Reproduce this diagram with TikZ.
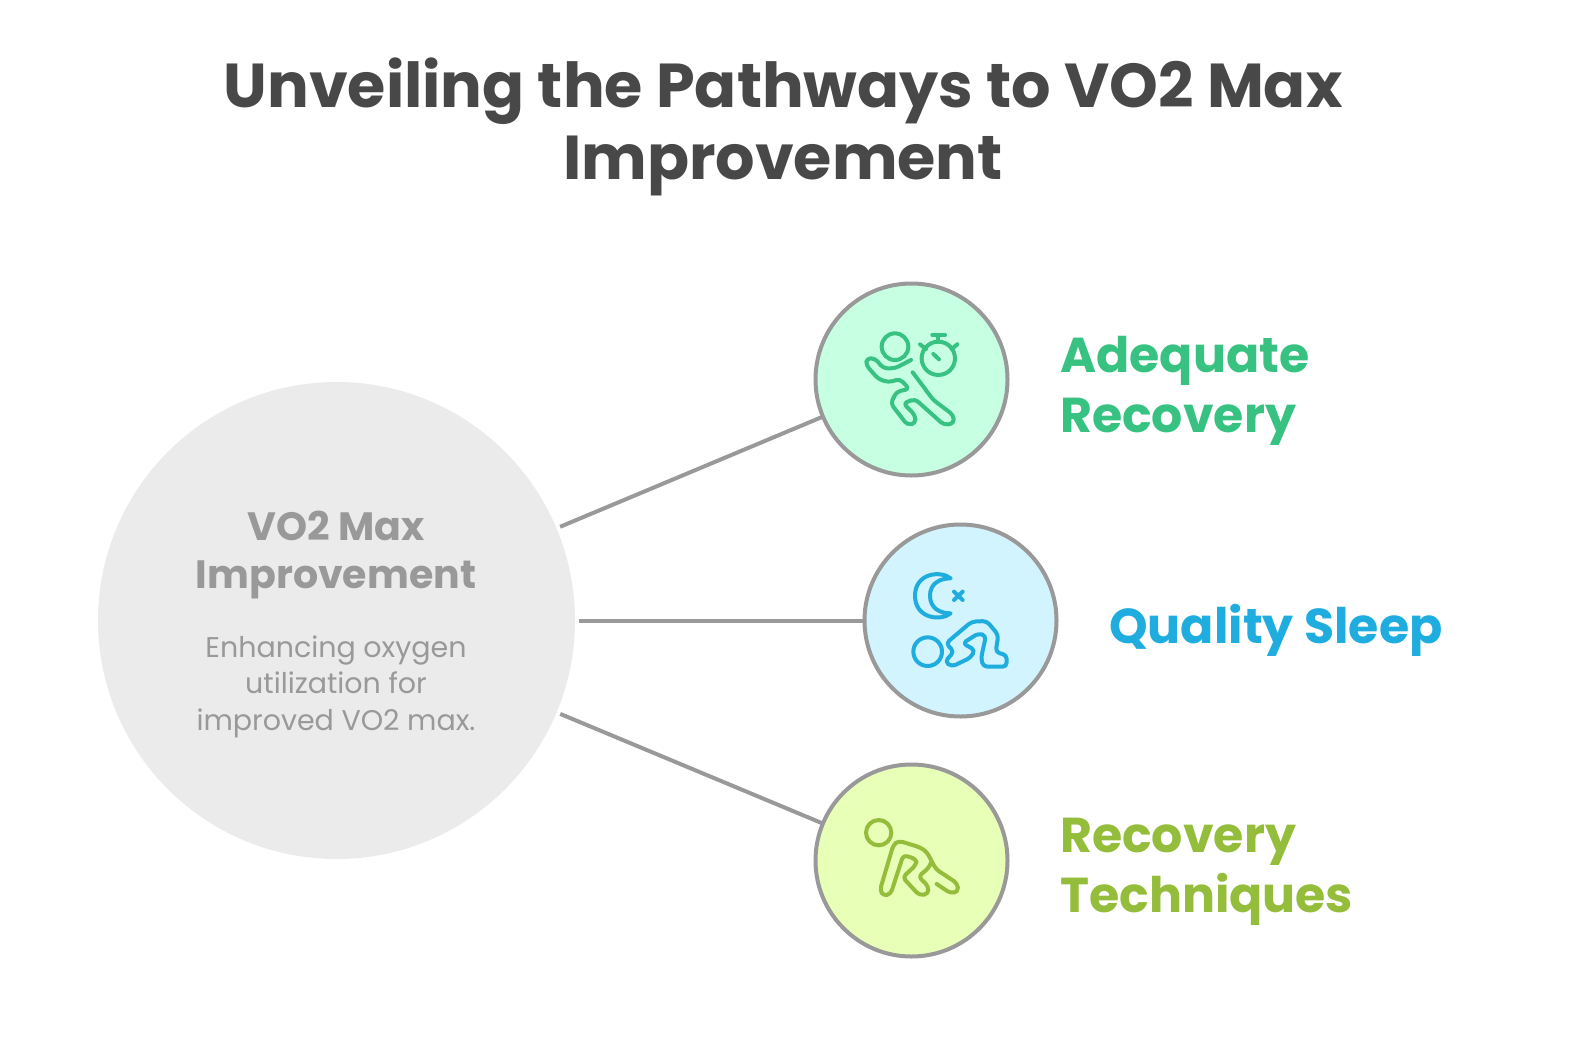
\documentclass[tikz,border=0pt]{standalone}
\usepackage{fontspec}
\setmainfont{Poppins}
\definecolor{titlegray}{HTML}{484848}
\definecolor{ringgray}{HTML}{999999}
\definecolor{maingray}{HTML}{EBEBEB}
\definecolor{adequatefill}{HTML}{C7FFE3}
\definecolor{adequateink}{HTML}{38C281}
\definecolor{sleepfill}{HTML}{D1F4FF}
\definecolor{sleepink}{HTML}{1EADDE}
\definecolor{techfill}{HTML}{E8FFB8}
\definecolor{techink}{HTML}{93BD3A}
\tikzset{
  ring/.style={circle, draw=ringgray, line width=4pt, minimum size=192pt, inner sep=0pt, outer sep=0pt},
  link/.style={draw=ringgray, line width=4pt},
  glyph/.style={line width=4pt, line join=round, line cap=round},
  tag/.style={anchor=west, align=left, inner sep=0pt, font=\fontsize{49}{60}\selectfont\bfseries}
}
\begin{document}
\begin{tikzpicture}[x=1pt,y=-1pt]
\useasboundingbox (0,0) rectangle (1584,1052);
\node[align=center, inner sep=0pt, text=titlegray, font=\fontsize{62}{72}\selectfont\bfseries] (title) at (783,127) {Unveiling the Pathways to VO2 Max\\Improvement};
\node[circle, fill=maingray, minimum size=477pt, inner sep=0pt, outer sep=4pt] (main) at (336.5,620.5) {};
\node[align=center, inner sep=0pt, text=ringgray, font=\fontsize{39.5}{48.5}\selectfont\bfseries] (mainhead) at (336,555) {VO2 Max\\Improvement};
\node[align=center, inner sep=0pt, text=ringgray, font=\fontsize{28.5}{36.4}\selectfont] (maintext) at (336,686.5) {Enhancing oxygen\\utilization for\\improved VO2 max.};
\node[ring, fill=adequatefill] (adequate) at (911.5,379.5) {};
\node[ring, fill=sleepfill] (sleep) at (960.5,620.5) {};
\node[ring, fill=techfill] (tech) at (911.5,860.5) {};
\draw[link] (main) -- (adequate);
\draw[link] (main) -- (sleep);
\draw[link] (main) -- (tech);
\node[tag, text=adequateink] (adequatetag) at (1060,391) {Adequate\\Recovery};
\node[tag, text=sleepink] (sleeptag) at (1109,630) {Quality Sleep};
\node[tag, text=techink] (techtag) at (1060,871.5) {Recovery\\Techniques};
% stopwatch runner
\begin{scope}[shift={(800,275)}, x=0.3333pt, y=-0.3333pt, glyph, draw=adequateink]
\draw (285,215) circle [radius=40];
\draw (415,250) circle [radius=50];
\draw (397,180) -- (435,180) (415,180) -- (415,200);
\draw (360,208) -- (378,222) (472,208) -- (455,222) (400,237) -- (417,253);
\draw[rounded corners=4pt] (333,255) -- (285,280) -- (250,280) -- (225,250) -- (200,250) -- (198,270) -- (235,312) -- (265,322) -- (300,312) -- (328,342) -- (290,350) -- (272,385) -- (322,450) -- (347,445) -- (345,420) -- (310,385) -- (345,372) -- (432,450) -- (462,445) -- (460,420) -- (400,375) -- (338,292);
\end{scope}
% moon and sleeper
\begin{scope}[shift={(850,515)}, x=0.3333pt, y=-0.3333pt, glyph, draw=sleepink]
\draw (302,190) .. controls (270,165) and (195,175) .. (195,242) .. controls (195,310) and (270,320) .. (302,295) .. controls (270,295) and (240,280) .. (240,242) .. controls (240,205) and (270,190) .. (302,190) -- cycle;
\draw (312,230) -- (338,255) (338,230) -- (312,255);
\draw (233,410) circle [radius=43];
\draw[rounded corners=4pt] (288,385) -- (365,320) -- (410,318) -- (445,360) -- (437,412) -- (470,420) -- (470,455) -- (400,455) -- (393,430) -- (408,362) -- (385,355) -- (338,385) -- (375,405) -- (362,428) -- (305,455) -- (285,440) -- (312,410) -- cycle;
\end{scope}
% crouching figure
\begin{scope}[shift={(800,750)}, x=0.3333pt, y=-0.3333pt, glyph, draw=techink]
\draw (236,248) circle [radius=38];
\draw[rounded corners=4pt] (410,402) -- (452,430) -- (475,425) -- (472,400) -- (408,358) -- (380,305) -- (360,292) -- (295,272) -- (280,285) -- (240,420) -- (250,438) -- (272,432) -- (310,315) -- (350,328) -- (348,345) -- (308,382) -- (358,436) -- (385,432) -- (385,408) -- (355,380) -- (388,352) -- (394,335);
\end{scope}
\end{tikzpicture}
\end{document}
